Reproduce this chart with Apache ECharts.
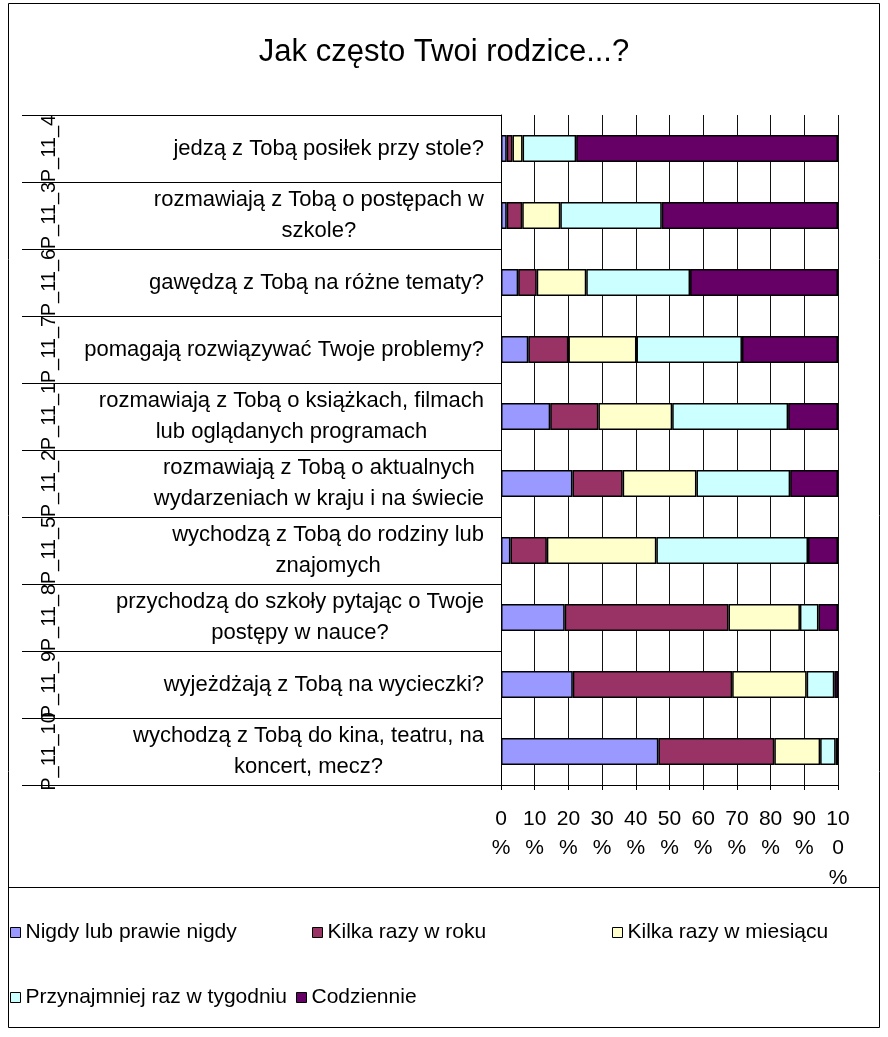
<!DOCTYPE html>
<html>
<head>
<meta charset="utf-8">
<script src="https://cdn.jsdelivr.net/npm/echarts@6/dist/echarts.min.js"></script>
<style>html,body{margin:0;padding:0;background:#fff;}#c{width:888px;height:1037px;}</style>
</head>
<body>
<div id="c"></div>
<script>
var titleText = 'Jak często Twoi rodzice...?';
var categories = [
  'jedzą z Tobą posiłek przy stole?',
  'rozmawiają z Tobą o postępach w\nszkole?',
  'gawędzą z Tobą na różne tematy?',
  'pomagają rozwiązywać Twoje problemy?',
  'rozmawiają z Tobą o książkach, filmach\nlub oglądanych programach',
  'rozmawiają z Tobą o aktualnych\nwydarzeniach w kraju i na świecie',
  'wychodzą z Tobą do rodziny lub\nznajomych',
  'przychodzą do szkoły pytając o Twoje\npostępy w nauce?',
  'wyjeżdżają z Tobą na wycieczki?',
  'wychodzą z Tobą do kina, teatru, na\nkoncert, mecz?'
];
var codes = ['P_11_4','P_11_3','P_11_6','P_11_7','P_11_1','P_11_2','P_11_5','P_11_8','P_11_9','P_11_10'];
var seriesNames = ['Nigdy lub prawie nigdy','Kilka razy w roku','Kilka razy w miesiącu','Przynajmniej raz w tygodniu','Codziennie'];
var nigdy      = [1.7, 1.7, 5.1, 8.1, 14.6, 21.2, 2.8, 18.9, 21.3, 46.7];
var rok        = [1.7, 4.6, 5.5, 11.9, 14.3, 14.9, 10.8, 48.6, 47.3, 34.4];
var miesiac    = [3.0, 11.3, 14.7, 20.2, 21.9, 21.9, 32.5, 21.2, 22.1, 13.6];
var tydzien    = [15.9, 30.1, 30.8, 31.3, 34.4, 27.8, 45.0, 5.5, 8.2, 4.6];
var codziennie = [77.7, 52.3, 43.9, 28.5, 14.8, 14.2, 8.9, 5.8, 1.1, 0.7];
var xTickLabels = ['0\n%','10\n%','20\n%','30\n%','40\n%','50\n%','60\n%','70\n%','80\n%','90\n%','10\n0\n%'];
var colors = ['#9999FF','#993366','#FFFFCC','#CCFFFF','#660066'];

var FONT = 'Liberation Sans, Arial, sans-serif';
var seriesData = [nigdy, rok, miesiac, tydzien, codziennie];

var chart = echarts.init(document.getElementById('c'), null, {renderer: 'canvas'});
var series = seriesNames.map(function (n, i) {
  return {
    name: n, type: 'bar', stack: 'total', barWidth: 27,
    data: seriesData[i],
    itemStyle: {color: colors[i], borderColor: '#000', borderWidth: 1.5},
    emphasis: {disabled: true}
  };
});

// legend slots: [left, top]
var legendSlots = [[10, 922], [312, 922], [612, 922], [10, 987], [296, 987]];
var legends = seriesNames.map(function (n, i) {
  return {
    data: [n], left: legendSlots[i][0], top: legendSlots[i][1], padding: 0,
    icon: 'rect', itemWidth: 10, itemHeight: 10, itemGap: 0, selectedMode: false,
    itemStyle: {borderColor: '#000', borderWidth: 1},
    textStyle: {fontFamily: FONT, fontSize: 21, color: '#000'}
  };
});

chart.setOption({
  animation: false,
  backgroundColor: '#fff',
  textStyle: {fontFamily: FONT},
  color: colors,
  title: {
    text: titleText, left: 'center', top: 32,
    textStyle: {fontFamily: FONT, fontSize: 31, fontWeight: 'normal', color: '#000'}
  },
  grid: {left: 501, right: 50, top: 115, bottom: 252, containLabel: false},
  xAxis: {
    type: 'value', min: 0, max: 100, interval: 10,
    axisLine: {show: true, lineStyle: {color: '#000', width: 1}},
    axisTick: {show: true, length: 5, lineStyle: {color: '#000'}},
    splitLine: {show: true, lineStyle: {color: '#111', width: 1}},
    axisLabel: {
      margin: 19, color: '#000', fontFamily: FONT, fontSize: 21, lineHeight: 29.5,
      formatter: function (v) { return xTickLabels[Math.round(v / 10)]; }
    }
  },
  yAxis: [{
    type: 'category', inverse: true, data: categories,
    axisLine: {show: true, lineStyle: {color: '#000', width: 1}},
    axisTick: {show: true, length: 479, interval: 0, lineStyle: {color: '#000', width: 1}},
    axisLabel: {
      interval: 0, margin: 17, color: '#000', fontFamily: FONT, fontSize: 22, lineHeight: 31,
      align: 'right',
      formatter: function (v) { return v.split('\n').map(function (s) { return '{c|' + s + '}'; }).join('\n'); },
      rich: {c: {align: 'center', fontFamily: FONT, fontSize: 22, lineHeight: 31, color: '#000'}}
    }
  }, {
    type: 'category', inverse: true, data: codes, position: 'left', offset: 442,
    axisLine: {show: false}, axisTick: {show: false}, splitLine: {show: false},
    axisLabel: {interval: 0, rotate: 90, margin: 0, color: '#000', fontFamily: FONT, fontSize: 20}
  }],
  legend: legends,
  graphic: [
    {type: 'rect', shape: {x: 8.5, y: 3.5, width: 871, height: 1024}, style: {fill: 'none', stroke: '#000', lineWidth: 1}, silent: true},
    {type: 'line', shape: {x1: 8.5, y1: 887.5, x2: 879.5, y2: 887.5}, style: {stroke: '#000', lineWidth: 1}, silent: true}
  ],
  series: series
});
</script>
</body>
</html>
